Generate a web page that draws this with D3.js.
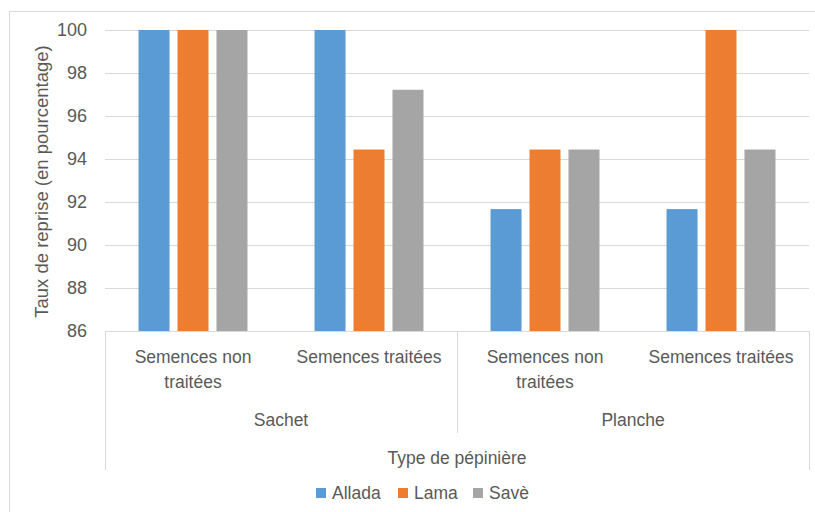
<!DOCTYPE html>
<html><head><meta charset="utf-8">
<script src="https://cdn.jsdelivr.net/npm/d3@7"></script>
<style>body{margin:0;background:#fff;} text{font-family:"Liberation Sans",Arial,sans-serif;fill:#595959;}</style>
</head><body>
<svg id="c" width="815" height="512"></svg>
<script>
const groups = ["Sachet", "Planche"];
const subcats = ["Semences non traitées", "Semences traitées"];
const categories = ["Sachet|Semences non traitées","Sachet|Semences traitées","Planche|Semences non traitées","Planche|Semences traitées"];
const series = ["Allada","Lama","Savè"];
const allada = [100, 100, 91.67, 91.67];
const lama = [100, 94.44, 94.44, 100];
const save = [100, 97.22, 94.44, 94.44];
const yTicks = [86,88,90,92,94,96,98,100];
const colors = ["#5B9BD5","#ED7D31","#A5A5A5"];
const values = [allada, lama, save];

const svg = d3.select("#c");
// chart border
svg.append("rect").attr("x",9.5).attr("y",11.5).attr("width",820).attr("height",520)
  .attr("fill","none").attr("stroke","#D9D9D9");

const L=105, R=809, T=30, B=331;
const x = d3.scaleBand().domain(categories).range([L,R]);
const xs = d3.scaleBand().domain(series).range([0,x.bandwidth()]).paddingInner(0.205).paddingOuter(0.86);
const y = d3.scaleLinear().domain([86,100]).range([B,T]);

// gridlines
svg.append("g").selectAll("line").data(yTicks).join("line")
  .attr("x1",L).attr("x2",R).attr("y1",d=>y(d)+0.5).attr("y2",d=>y(d)+0.5)
  .attr("stroke","#D9D9D9").attr("stroke-width",1);

// y axis labels
const yAxis = d3.axisLeft(y).tickValues(yTicks).tickSize(0).tickPadding(18);
const ya = svg.append("g").attr("transform",`translate(${L},0)`).call(yAxis);
ya.select(".domain").remove();
ya.selectAll("text").style("font-size","18px").style("font-family","Liberation Sans, Arial, sans-serif").attr("fill","#595959");

// bars
series.forEach((s,si)=>{
  svg.append("g").selectAll("rect").data(values[si]).join("rect")
    .attr("x",(d,i)=>x(categories[i])+xs(s))
    .attr("width",xs.bandwidth())
    .attr("y",d=>y(d)).attr("height",d=>y(86)-y(d))
    .attr("fill",colors[si]);
});

// category axis lines
const g = svg.append("g").attr("stroke","#D9D9D9").attr("stroke-width",1);
g.append("line").attr("x1",L).attr("x2",R).attr("y1",B+0.5).attr("y2",B+0.5);
g.append("line").attr("x1",L+0.5).attr("x2",L+0.5).attr("y1",B).attr("y2",470);
g.append("line").attr("x1",R+0.5).attr("x2",R+0.5).attr("y1",B).attr("y2",470);
g.append("line").attr("x1",x(categories[2])+0.5).attr("x2",x(categories[2])+0.5).attr("y1",B).attr("y2",433);

// level 1 labels
categories.forEach(c=>{
  const sub = c.split("|")[1];
  const cx = x(c)+x.bandwidth()/2;
  const lines = sub==="Semences non traitées" ? ["Semences non","traitées"] : [sub];
  lines.forEach((t,i)=>{
    svg.append("text").attr("x",cx).attr("y",363+i*25).attr("text-anchor","middle")
      .style("font-size","17.5px").text(t);
  });
});
// level 2 labels
groups.forEach((gname,gi)=>{
  const x0 = x(categories[gi*2]), x1 = x(categories[gi*2+1])+x.bandwidth();
  svg.append("text").attr("x",(x0+x1)/2).attr("y",426).attr("text-anchor","middle")
    .style("font-size","17.5px").text(gname);
});
// axis titles
svg.append("text").attr("x",(L+R)/2).attr("y",464).attr("text-anchor","middle")
  .style("font-size","17.5px").text("Type de pépinière");
svg.append("text").attr("transform",`translate(48,${(T+B)/2+1}) rotate(-90)`).attr("text-anchor","middle")
  .style("font-size","18.5px").text("Taux de reprise (en pourcentage)");

// legend
const legX = [316, 398, 473];
series.forEach((s,i)=>{
  svg.append("rect").attr("x",legX[i]).attr("y",488).attr("width",10).attr("height",10).attr("fill",colors[i]);
  svg.append("text").attr("x",legX[i]+16).attr("y",499).style("font-size","17.5px").text(s);
});
</script>
</body></html>
